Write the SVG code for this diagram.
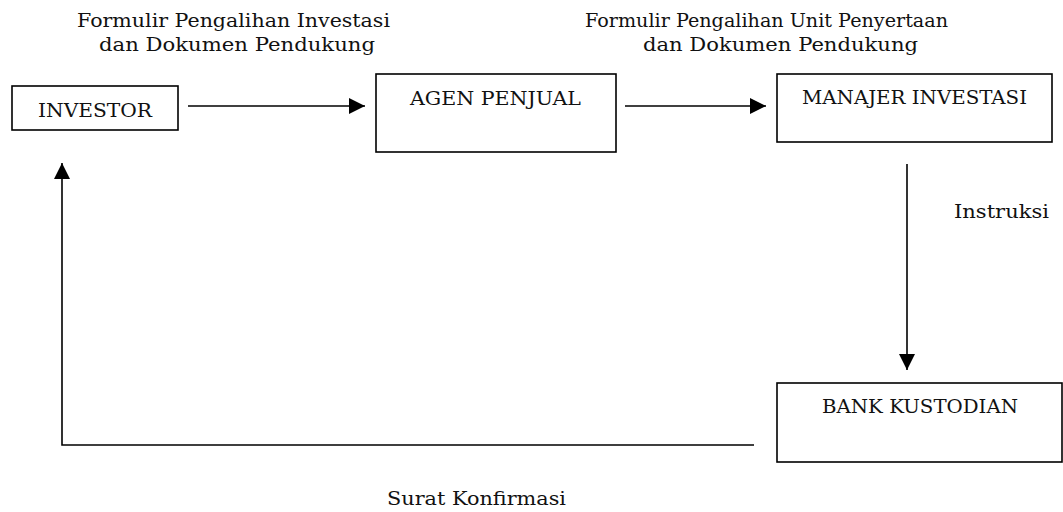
<svg xmlns="http://www.w3.org/2000/svg" width="1063" height="512" viewBox="0 0 1063 512">
<style>
text{font-family:"DejaVu Serif","Liberation Serif",serif;font-size:19px;fill:#111;}
.box{fill:#fff;stroke:#000;stroke-width:1.6;}
.ln{fill:none;stroke:#000;stroke-width:1.6;}
</style>
<defs>
<marker id="ah" viewBox="0 0 16 16" refX="16" refY="8" markerWidth="16" markerHeight="16" markerUnits="userSpaceOnUse" orient="auto">
<path d="M0,0 L16,8 L0,16 Z" fill="#000"/>
</marker>
</defs>
<rect width="1063" height="512" fill="#fff"/>
<g id="connectors">
<line class="ln" x1="188" y1="106" x2="365" y2="106" marker-end="url(#ah)"/>
<line class="ln" x1="625" y1="106" x2="766" y2="106" marker-end="url(#ah)"/>
<line class="ln" x1="907" y1="164" x2="907" y2="370" marker-end="url(#ah)"/>
<polyline class="ln" points="754,445 62,445 62,163" marker-end="url(#ah)"/>
<text x="77" y="27" textLength="313" lengthAdjust="spacingAndGlyphs">Formulir Pengalihan Investasi</text>
<text x="99" y="51" textLength="276" lengthAdjust="spacingAndGlyphs">dan Dokumen Pendukung</text>
<text x="585" y="27" textLength="363" lengthAdjust="spacingAndGlyphs">Formulir Pengalihan Unit Penyertaan</text>
<text x="643" y="51" textLength="275" lengthAdjust="spacingAndGlyphs">dan Dokumen Pendukung</text>
<text x="954" y="218" textLength="95" lengthAdjust="spacingAndGlyphs">Instruksi</text>
<text x="387" y="505" textLength="179" lengthAdjust="spacingAndGlyphs">Surat Konfirmasi</text>
</g>
<g id="investor">
<rect class="box" x="12" y="86" width="166" height="44"/>
<text x="38" y="117" textLength="114" lengthAdjust="spacingAndGlyphs">INVESTOR</text>
</g>
<g id="agen-penjual">
<rect class="box" x="376" y="74" width="240" height="78"/>
<text x="410" y="105" textLength="171" lengthAdjust="spacingAndGlyphs">AGEN PENJUAL</text>
</g>
<g id="manajer-investasi">
<rect class="box" x="777" y="74" width="275" height="68"/>
<text x="802" y="104" textLength="225" lengthAdjust="spacingAndGlyphs">MANAJER INVESTASI</text>
</g>
<g id="bank-kustodian">
<rect class="box" x="777" y="383" width="285" height="79"/>
<text x="822" y="413" textLength="196" lengthAdjust="spacingAndGlyphs">BANK KUSTODIAN</text>
</g>
</svg>
